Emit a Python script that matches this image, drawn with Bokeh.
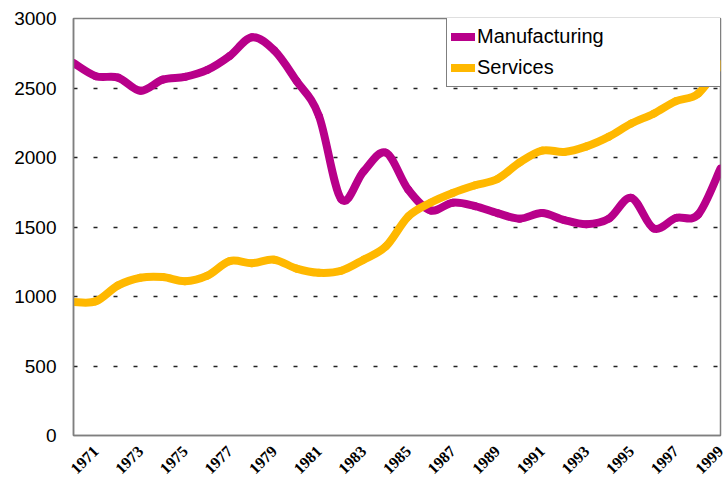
import numpy as np
from math import pi
from bokeh.plotting import figure
from bokeh.models import FixedTicker, Range1d, Legend, LegendItem
from bokeh.embed import file_html
from bokeh.resources import INLINE

years = list(range(1970, 2000))
manufacturing = [2680, 2585, 2575, 2480, 2560, 2580, 2630, 2730, 2865, 2770,
                 2550, 2300, 1700, 1900, 2035, 1770, 1620, 1675, 1650, 1600,
                 1560, 1600, 1550, 1520, 1560, 1710, 1490, 1565, 1590, 1920]
services = [960, 965, 1080, 1135, 1140, 1110, 1150, 1255, 1240, 1265,
            1200, 1170, 1185, 1265, 1360, 1575, 1675, 1745, 1800, 1845,
            1965, 2050, 2040, 2080, 2150, 2245, 2315, 2405, 2460, 2670]
label_years = list(range(1971, 2000, 2))
y_ticks = [0, 500, 1000, 1500, 2000, 2500, 3000]

MAN_COLOR = "#B8008A"
SER_COLOR = "#FFB800"


def smooth_segments(xs, ys):
    """Catmull-Rom control points for cubic Bezier segments (rendering only)."""
    x = np.asarray(xs, float)
    y = np.asarray(ys, float)
    px = np.concatenate([[x[0]], x, [x[-1]]])
    py = np.concatenate([[y[0]], y, [y[-1]]])
    return dict(
        x0=x[:-1], y0=y[:-1], x1=x[1:], y1=y[1:],
        cx0=px[1:-2] + (px[2:-1] - px[:-3]) / 6.0,
        cy0=py[1:-2] + (py[2:-1] - py[:-3]) / 6.0,
        cx1=px[2:-1] - (px[3:] - px[1:-2]) / 6.0,
        cy1=py[2:-1] - (py[3:] - py[1:-2]) / 6.0,
    )


p = figure(width=727, height=484, output_backend="svg", toolbar_location=None,
           x_range=Range1d(1970, 1999), y_range=Range1d(0, 3000),
           min_border_left=73, min_border_right=7, min_border_top=18,
           min_border_bottom=49)
p.background_fill_color = "white"
p.border_fill_color = "white"
p.outline_line_color = "#7f7f7f"
p.outline_line_width = 1.5

r_man = p.bezier(**smooth_segments(years, manufacturing), line_color=MAN_COLOR,
                 line_width=8, line_cap="round")
r_ser = p.bezier(**smooth_segments(years, services), line_color=SER_COLOR,
                 line_width=8, line_cap="round")

# axes
p.xaxis.ticker = FixedTicker(ticks=label_years)
p.yaxis.ticker = FixedTicker(ticks=y_ticks)
p.axis.axis_line_color = "#7f7f7f"
p.axis.axis_line_width = 1.5
p.axis.major_tick_line_color = None
p.axis.minor_tick_line_color = None
p.axis.major_tick_out = 0
p.axis.major_tick_in = 0

p.xaxis.major_label_orientation = pi / 4
p.xaxis.major_label_text_font = "Liberation Serif"
p.xaxis.major_label_text_font_style = "bold"
p.xaxis.major_label_text_font_size = "16px"
p.xaxis.major_label_text_color = "black"
p.xaxis.major_label_standoff = 13

p.yaxis.major_label_text_font = "Liberation Sans"
p.yaxis.major_label_text_font_size = "19px"
p.yaxis.major_label_text_color = "black"
p.yaxis.major_label_standoff = 17

p.xgrid.visible = False
p.ygrid.grid_line_color = "#222222"
p.ygrid.grid_line_width = 1.5
p.ygrid.grid_line_dash = "4 16"

legend = Legend(items=[LegendItem(label="Manufacturing", renderers=[r_man]),
                       LegendItem(label="Services", renderers=[r_ser])],
                location=(373, 348))
legend.border_line_color = "black"
legend.border_line_width = 1.5
legend.background_fill_color = "white"
legend.background_fill_alpha = 1.0
legend.label_text_font = "Liberation Sans"
legend.label_text_font_size = "20px"
legend.label_text_color = "black"
legend.padding = 4
legend.spacing = 2
legend.margin = 0
legend.glyph_width = 24
legend.glyph_height = 29
legend.label_height = 29
legend.label_width = 239
legend.label_standoff = 2
p.add_layout(legend)

open("out.html", "w").write(file_html(p, INLINE))
